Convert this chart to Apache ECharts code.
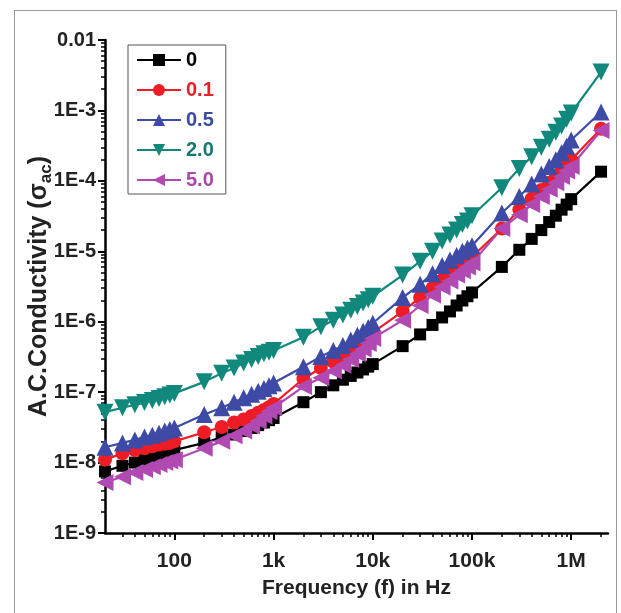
<!DOCTYPE html>
<html>
<head>
<meta charset="UTF-8">
<title>AC conductivity</title>
<script src="https://cdn.jsdelivr.net/npm/echarts@6/dist/echarts.min.js"></script>
<style>
    html, body { margin: 0; padding: 0; background: #fff; }
    #frame { position: absolute; left: 14px; top: 10px; width: 601px; height: 620px; border: 1px solid #9a9a9a; pointer-events: none; }
    #main { position: absolute; left: 0; top: 0; width: 621px; height: 613px; }
</style>
</head>
<body>
<div id="main"></div>
<div id="frame"></div>
<script>
// frequencies (Hz)
var freq = [20, 30, 40, 50, 60, 70, 80, 90,
    100, 200, 300, 400, 500, 600, 700, 800, 900,
    1e3, 2e3, 3e3, 4e3, 5e3, 6e3, 7e3, 8e3, 9e3,
    1e4, 2e4, 3e4, 4e4, 5e4, 6e4, 7e4, 8e4, 9e4,
    1e5, 2e5, 3e5, 4e5, 5e5, 6e5, 7e5, 8e5, 9e5,
    1e6, 2e6];

var names = ['0', '0.1', '0.5', '2.0', '5.0'];

var s0 = [7.5e-9, 9.0e-9, 1.0e-8, 1.1e-8, 1.2e-8, 1.3e-8, 1.4e-8, 1.45e-8,
    1.5e-8, 1.9e-8, 2.3e-8, 2.5e-8, 2.8e-8, 3.1e-8, 3.4e-8, 3.7e-8, 4.0e-8,
    4.3e-8, 7.2e-8, 1.0e-7, 1.25e-7, 1.5e-7, 1.7e-7, 1.9e-7, 2.1e-7, 2.3e-7,
    2.5e-7, 4.5e-7, 6.6e-7, 9.0e-7, 1.15e-6, 1.4e-6, 1.7e-6, 2.0e-6, 2.3e-6,
    2.6e-6, 6.0e-6, 1.05e-5, 1.5e-5, 2.0e-5, 2.6e-5, 3.2e-5, 3.9e-5, 4.6e-5,
    5.5e-5, 1.35e-4];

var s01 = [1.1e-8, 1.35e-8, 1.5e-8, 1.6e-8, 1.7e-8, 1.8e-8, 1.85e-8, 1.9e-8,
    2.0e-8, 2.7e-8, 3.2e-8, 3.7e-8, 4.1e-8, 4.6e-8, 5.1e-8, 5.6e-8, 6.1e-8,
    6.8e-8, 1.55e-7, 2.2e-7, 2.7e-7, 3.2e-7, 3.8e-7, 4.5e-7, 5.2e-7, 6.0e-7,
    7.0e-7, 1.4e-6, 2.2e-6, 3.0e-6, 3.9e-6, 4.7e-6, 5.6e-6, 6.5e-6, 7.4e-6,
    8.3e-6, 2.1e-5, 3.9e-5, 5.6e-5, 7.4e-5, 9.4e-5, 1.15e-4, 1.4e-4, 1.7e-4,
    2.0e-4, 5.5e-4];

var s05 = [1.65e-8, 1.9e-8, 2.1e-8, 2.3e-8, 2.45e-8, 2.6e-8, 2.8e-8, 2.95e-8,
    3.1e-8, 4.8e-8, 6.0e-8, 7.2e-8, 8.3e-8, 9.3e-8, 1.03e-7, 1.13e-7, 1.23e-7,
    1.35e-7, 2.3e-7, 3.2e-7, 3.9e-7, 4.6e-7, 5.5e-7, 6.4e-7, 7.3e-7, 8.3e-7,
    9.5e-7, 2.2e-6, 3.4e-6, 4.8e-6, 6.3e-6, 7.5e-6, 8.7e-6, 1.0e-5, 1.1e-5,
    1.2e-5, 3.5e-5, 6.0e-5, 9.0e-5, 1.25e-4, 1.6e-4, 2.0e-4, 2.5e-4, 3.1e-4,
    3.8e-4, 9.5e-4];

var s20 = [5.2e-8, 6.0e-8, 6.6e-8, 7.1e-8, 7.6e-8, 8.1e-8, 8.6e-8, 9.1e-8,
    9.6e-8, 1.4e-7, 1.85e-7, 2.2e-7, 2.6e-7, 2.9e-7, 3.2e-7, 3.5e-7, 3.7e-7,
    3.9e-7, 6.0e-7, 8.5e-7, 1.05e-6, 1.25e-6, 1.45e-6, 1.65e-6, 1.85e-6, 2.05e-6,
    2.3e-6, 4.6e-6, 7.2e-6, 1.0e-5, 1.4e-5, 1.7e-5, 2.0e-5, 2.4e-5, 2.7e-5,
    3.2e-5, 8.0e-5, 1.5e-4, 2.2e-4, 3.0e-4, 3.9e-4, 4.9e-4, 6.0e-4, 7.5e-4,
    9.2e-4, 3.5e-3];

var s50 = [5.2e-9, 6.3e-9, 7.2e-9, 8.0e-9, 8.7e-9, 9.4e-9, 1.0e-8, 1.05e-8,
    1.1e-8, 1.6e-8, 2.0e-8, 2.4e-8, 2.8e-8, 3.3e-8, 3.9e-8, 4.6e-8, 5.3e-8,
    6.0e-8, 1.2e-7, 1.6e-7, 2.0e-7, 2.4e-7, 2.9e-7, 3.5e-7, 4.1e-7, 4.9e-7,
    5.8e-7, 1.05e-6, 1.7e-6, 2.4e-6, 3.1e-6, 3.8e-6, 4.6e-6, 5.3e-6, 6.0e-6,
    6.8e-6, 2.1e-5, 3.3e-5, 4.6e-5, 6.0e-5, 7.6e-5, 9.4e-5, 1.15e-4, 1.38e-4,
    1.6e-4, 5.2e-4];

// axis ticks
var xMajor = [100, 1e3, 1e4, 1e5, 1e6];
var xMinor = [30, 40, 50, 60, 70, 80, 90,
    200, 300, 400, 500, 600, 700, 800, 900,
    2e3, 3e3, 4e3, 5e3, 6e3, 7e3, 8e3, 9e3,
    2e4, 3e4, 4e4, 5e4, 6e4, 7e4, 8e4, 9e4,
    2e5, 3e5, 4e5, 5e5, 6e5, 7e5, 8e5, 9e5, 2e6];
var yMinor = [];
for (var d = -9; d < -2; d++) {
    for (var m = 2; m < 10; m++) yMinor.push(m * Math.pow(10, d));
}

var font = '"Liberation Sans", Arial, sans-serif';
var colors = ['#000000', '#ee1c25', '#3d4aa6', '#10887c', '#b04ab2'];
var textColors = ['#000000', '#e8202a', '#3a4aa0', '#16786e', '#a848a8'];
var symbols = ['rect', 'circle', 'triangle', 'triangle', 'triangle'];
var rotates = [0, 0, 0, 180, 90];
var sizes = [12, 14, 17, 17, 17];
var seriesData = [s0, s01, s05, s20, s50];

function pairs(ys) {
    var out = [];
    for (var i = 0; i < freq.length; i++) out.push([freq[i], ys[i]]);
    return out;
}

var chart = echarts.init(document.getElementById('main'));

var series = names.map(function (n, i) {
    return {
        name: n,
        type: 'line',
        data: pairs(seriesData[i]),
        symbol: symbols[i],
        symbolRotate: rotates[i],
        symbolSize: sizes[i],
        lineStyle: { color: colors[i], width: 2.2 },
        itemStyle: { color: colors[i] },
        animation: false
    };
});

var option = {
    backgroundColor: '#fff',
    grid: { left: 105, right: 13, top: 40, bottom: 80 },
    legend: {
        left: 128, top: 45,
        orient: 'vertical',
        itemGap: 10,
        itemWidth: 44, itemHeight: 15,
        padding: [5, 12, 4, 8],
        borderColor: '#555', borderWidth: 1,
        data: names.map(function (n, i) {
            return { name: n, textStyle: { color: textColors[i] } };
        }),
        textStyle: { fontSize: 20, fontWeight: 'bold', fontFamily: font }
    },
    xAxis: [{
        type: 'log', logBase: 10,
        min: 20, max: 2.35e6,
        name: 'Frequency (f) in Hz',
        nameLocation: 'middle', nameGap: 45,
        nameMoveOverlap: false,
        nameTextStyle: { fontSize: 21, fontWeight: 'bold', color: '#222', fontFamily: font },
        axisLine: { lineStyle: { color: '#000', width: 2.5 } },
        axisTick: { customValues: xMajor, length: 7, lineStyle: { width: 2, color: '#000' } },
        axisLabel: {
            customValues: xMajor,
            margin: 18, fontSize: 21, fontWeight: 'bold', color: '#222', fontFamily: font,
            formatter: function (v) {
                var e = Math.round(Math.log10(v));
                return ['1', '10', '100', '1k', '10k', '100k', '1M'][e];
            }
        },
        splitLine: { show: false }
    }, {
        type: 'log', logBase: 10,
        min: 20, max: 2.35e6,
        position: 'bottom',
        axisLine: { show: false },
        axisTick: { customValues: xMinor, length: 4, lineStyle: { width: 1.5, color: '#000' } },
        axisLabel: { show: false },
        splitLine: { show: false }
    }],
    yAxis: [{
        type: 'log', logBase: 10,
        min: 1e-9, max: 0.01,
        name: '{t|A.C.Conductivity (σ}{s|ac}{t|)}',
        nameLocation: 'middle', nameGap: 50,
        nameMoveOverlap: false,
        nameTextStyle: {
            rich: {
                t: { fontSize: 25, fontWeight: 'bold', color: '#222', fontFamily: font, lineHeight: 28, verticalAlign: 'top' },
                s: { fontSize: 17, fontWeight: 'bold', color: '#222', fontFamily: font, lineHeight: 17, verticalAlign: 'bottom' }
            }
        },
        axisLine: { lineStyle: { color: '#000', width: 2.5 } },
        axisTick: { length: 7, lineStyle: { width: 2, color: '#000' } },
        axisLabel: {
            margin: 9, fontSize: 20, fontWeight: 'bold', color: '#222', fontFamily: font,
            formatter: function (v) {
                var e = Math.round(Math.log10(v));
                return e === -2 ? '0.01' : '1E' + e;
            }
        },
        splitLine: { show: false }
    }, {
        type: 'log', logBase: 10,
        min: 1e-9, max: 0.01,
        position: 'left',
        axisLine: { show: false },
        axisTick: { customValues: yMinor, length: 4, lineStyle: { width: 1.5, color: '#000' } },
        axisLabel: { show: false },
        splitLine: { show: false }
    }],
    series: series
};

chart.setOption(option);
</script>
</body>
</html>
